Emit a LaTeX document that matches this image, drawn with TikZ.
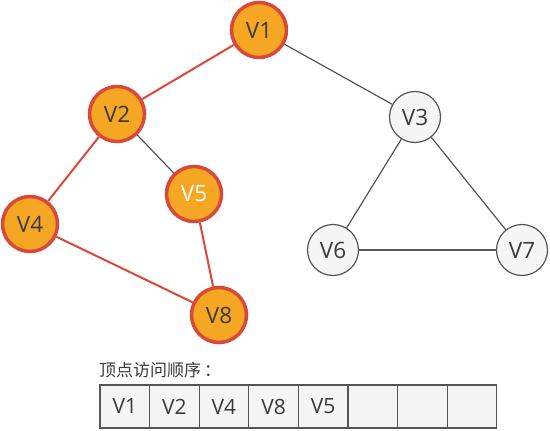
\documentclass[tikz,border=0pt]{standalone}
\usepackage{fontspec}
\setmainfont{Open Sans}
\newfontfamily\cjk{Noto Sans CJK SC}
\usepackage{tikz}

\definecolor{visitfill}{HTML}{F5A623}
\definecolor{visitline}{HTML}{D9483B}
\definecolor{plainfill}{HTML}{F5F5F5}
\definecolor{plainline}{HTML}{555555}
\definecolor{labeltext}{HTML}{3A3A3A}

\begin{document}
\begin{tikzpicture}[x=1pt, y=-1pt,
    visited/.style={circle, minimum size=55pt, inner sep=0pt, fill=visitfill, draw=visitline, line width=3.5pt, text=labeltext, font=\fontsize{22.5}{24}\selectfont},
    unvisited/.style={circle, minimum size=51pt, inner sep=0pt, fill=plainfill, draw=plainline, line width=1.2pt, text=labeltext, font=\fontsize{22.5}{24}\selectfont},
    treeedge/.style={visitline, line width=2pt},
    otheredge/.style={plainline, line width=1.2pt},
    cell/.style={rectangle, minimum width=49.6pt, minimum height=43pt, inner sep=0pt, fill=plainfill, draw=plainline, line width=1.2pt, text=labeltext, font=\fontsize{21}{24}\selectfont}]
    \useasboundingbox (0,0) rectangle (550,431);

    % Vertices
    \node[visited] (v1) at (259,30) {V1};
    \node[visited] (v2) at (117,114) {V2};
    \node[unvisited] (v3) at (415,117) {V3};
    \node[visited] (v4) at (30,224) {V4};
    \node[visited, text=white] (v5) at (194,194) {V5};
    \node[unvisited] (v6) at (333,250) {V6};
    \node[unvisited] (v7) at (522,250) {V7};
    \node[visited] (v8) at (219,315) {V8};

    % Edges
    \draw[treeedge] (v1) -- (v2);
    \draw[otheredge] (v1) -- (v3);
    \draw[treeedge] (v2) -- (v4);
    \draw[otheredge] (v2) -- (v5);
    \draw[treeedge] (v4) -- (v8);
    \draw[treeedge] (v5) -- (v8);
    \draw[otheredge] (v3) -- (v6);
    \draw[otheredge] (v3) -- (v7);
    \draw[otheredge] (v6) -- (v7);

    % Visit order
    \node[anchor=west, inner sep=0pt, text=labeltext, font=\cjk\fontsize{17}{20}\selectfont] (title) at (99,370) {顶点访问顺序\,：};
    \node[cell] (c1) at (124.8,406.5) {V1};
    \node[cell] (c2) at (174.4,406.5) {V2};
    \node[cell] (c3) at (224,406.5) {V4};
    \node[cell] (c4) at (273.6,406.5) {V8};
    \node[cell] (c5) at (323.2,406.5) {V5};
    \node[cell] (c6) at (372.8,406.5) {};
    \node[cell] (c7) at (422.4,406.5) {};
    \node[cell] (c8) at (472,406.5) {};
\end{tikzpicture}
\end{document}
